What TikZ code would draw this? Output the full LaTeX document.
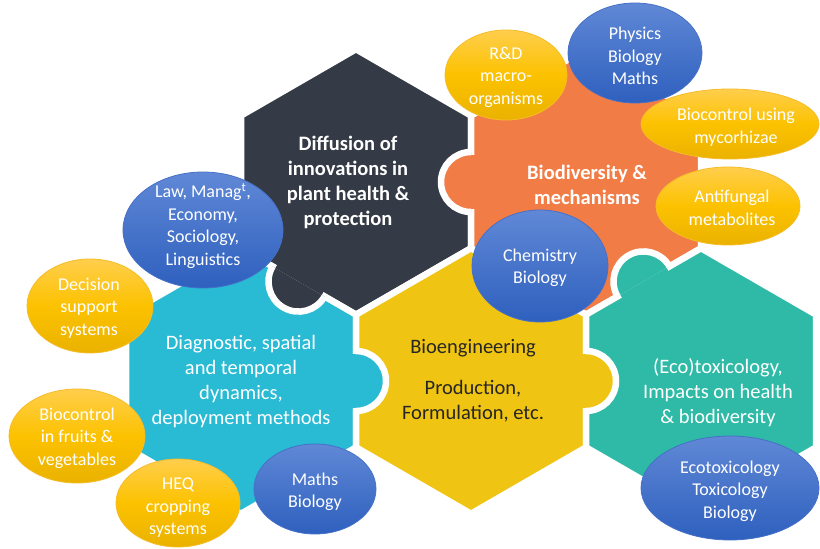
\documentclass[tikz,border=0pt]{standalone}
\usepackage{fontspec}
\setmainfont{Carlito}
\usetikzlibrary{shapes.geometric,calc}
\definecolor{hexdark}{RGB}{52,58,70}
\definecolor{hexorange}{RGB}{241,124,70}
\definecolor{hexcyan}{RGB}{41,186,212}
\definecolor{hexyellow}{RGB}{240,196,18}
\definecolor{hexteal}{RGB}{46,186,166}
\definecolor{blueTop}{RGB}{96,136,214}
\definecolor{blueBot}{RGB}{46,96,190}
\definecolor{blueEdge}{RGB}{70,112,200}
\definecolor{yelTop}{RGB}{255,206,76}
\definecolor{yelMid}{RGB}{252,194,0}
\definecolor{yelBot}{RGB}{234,178,0}
\definecolor{yelEdge}{RGB}{246,188,40}
\definecolor{darktext}{RGB}{38,38,38}
\newcommand\hexat[3]{%
  \filldraw[fill=#3, draw=white, line width=6.5pt] (#1,#2) ++(0,-132.8) -- ++(115,66.4) -- ++(0,132.8) -- ++(-115,66.4) -- ++(-115,-66.4) -- ++(0,-132.8) -- cycle;}
\newcommand\puzzletab[3]{%
  \pgfmathsetmacro\tabAng{#2-90}\pgfmathsetmacro\tabBng{#2+90}\pgfmathsetmacro\tabIng{#2+180}%
  \fill[#3] ($(#1)+(\tabAng:30)$) arc[start angle=\tabAng,end angle=\tabBng,radius=30] -- cycle;
  \fill[#3] ($(#1)+(\tabAng:26.75)$) -- ($(#1)+(\tabBng:26.75)$) -- ($(#1)+(\tabBng:26.75)+(\tabIng:4)$) -- ($(#1)+(\tabAng:26.75)+(\tabIng:4)$) -- cycle;
  \draw[white, line width=6.5pt] ($(#1)+(\tabAng:30)$) arc[start angle=\tabAng,end angle=\tabBng,radius=30];}
\begin{document}
\begin{tikzpicture}[x=1pt,y=-1pt,
  blueell/.style={ellipse, inner sep=0pt, top color=blueTop, bottom color=blueBot, draw=blueEdge, line width=0.8pt},
  yelell/.style={ellipse, inner sep=0pt, top color=yelTop, bottom color=yelBot, middle color=yelMid, draw=yelEdge, line width=0.8pt},
  etext/.style={text=white, align=center, font=\fontsize{18}{22.5}\selectfont, inner sep=0pt},
  htext/.style={align=center, font=\fontsize{20.5}{25}\selectfont, inner sep=0pt}]
\useasboundingbox (0,0) rectangle (820,549);
% hexagons
\hexat{356}{182}{hexdark}
\hexat{586}{182}{hexorange}
\hexat{241}{381}{hexcyan}
\hexat{471}{381}{hexyellow}
\hexat{701}{381}{hexteal}
% puzzle tabs
\coordinate (tabO) at (471,182);
\coordinate (tabD) at (298.5,281.6);
\coordinate (tabC) at (356,381);
\coordinate (tabY) at (586,381);
\coordinate (tabT) at (643.5,281.4);
\puzzletab{tabO}{180}{hexorange}
\puzzletab{tabD}{120}{hexdark}
\puzzletab{tabC}{0}{hexcyan}
\puzzletab{tabY}{0}{hexyellow}
\puzzletab{tabT}{240}{hexteal}
% hexagon texts
\node[htext, text=white, font=\fontsize{20.5}{25}\selectfont\bfseries] (tDark) at (348,182) {Diffusion of\\innovations in\\plant health \&\\protection};
\node[htext, text=white, font=\fontsize{20.5}{25}\selectfont\bfseries] (tOrange) at (587,185) {Biodiversity \&\\mechanisms};
\node[htext, text=white] (tCyan) at (241,382) {Diagnostic, spatial\\and temporal\\dynamics,\\deployment methods};
\node[htext, text=darktext] (tYellow) at (473,381) {Bioengineering\\[16pt]Production,\\Formulation, etc.};
\node[htext, text=white] (tTeal) at (718,393) {(Eco)toxicology,\\Impacts on health\\\& biodiversity};
% ellipses
\node[yelell, minimum width=122, minimum height=90] (eRD) at (506,75) {};
\node[etext] (xRD) at (506,77) {R\&D\\macro-\\organisms};
\node[blueell, minimum width=134, minimum height=100] (ePhys) at (635,53) {};
\node[etext] (xPhys) at (635,56) {Physics\\Biology\\Maths};
\node[yelell, minimum width=178, minimum height=70] (eMyc) at (730,124) {};
\node[etext] (xMyc) at (736,127) {Biocontrol using\\mycorhizae};
\node[yelell, minimum width=144, minimum height=78] (eAnti) at (728,206) {};
\node[etext] (xAnti) at (732,208) {Antifungal\\metabolites};
\node[blueell, minimum width=136, minimum height=112] (eChem) at (540,266) {};
\node[etext] (xChem) at (540,268) {Chemistry\\Biology};
\node[blueell, minimum width=160, minimum height=116] (eLaw) at (203,230) {};
\node[etext] (xLaw) at (203,226) {Law, Manag\textsuperscript{t},\\Economy,\\Sociology,\\Linguistics};
\node[yelell, minimum width=126, minimum height=94] (eDec) at (90,306) {};
\node[etext] (xDec) at (89,308) {Decision\\support\\systems};
\node[yelell, minimum width=136, minimum height=94] (eFruit) at (77,436) {};
\node[etext] (xFruit) at (77,438) {Biocontrol\\in fruits \&\\vegetables};
\node[yelell, minimum width=124, minimum height=88] (eHEQ) at (178,503) {};
\node[etext] (xHEQ) at (178,508) {HEQ\\cropping\\systems};
\node[blueell, minimum width=122, minimum height=90] (eMaths) at (315,489) {};
\node[etext] (xMaths) at (315,492) {Maths\\Biology};
\node[blueell, minimum width=178, minimum height=104] (eEco) at (730,488) {};
\node[etext] (xEco) at (730,491) {Ecotoxicology\\Toxicology\\Biology};
\end{tikzpicture}
\end{document}
